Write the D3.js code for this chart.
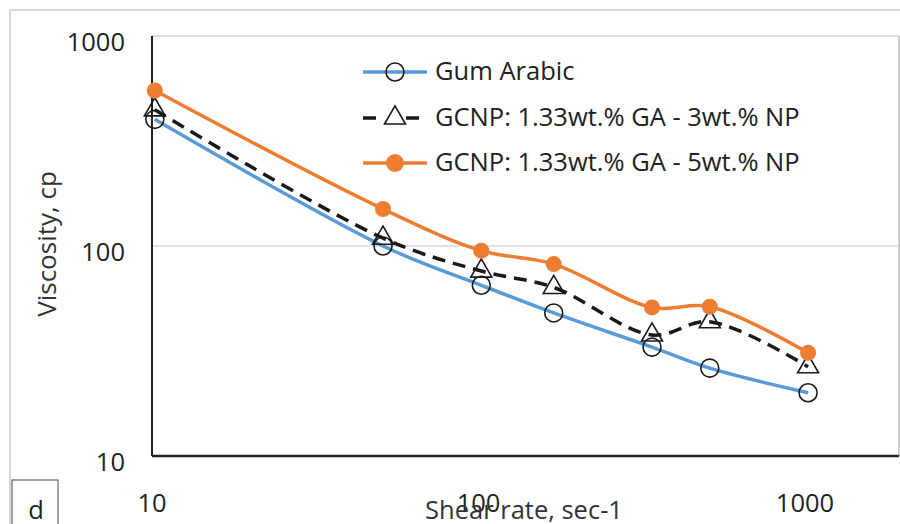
<!DOCTYPE html>
<html>
<head>
<meta charset="utf-8">
<script src="https://cdn.jsdelivr.net/npm/d3@7"></script>
<style>
  body { margin: 0; background: #fff; }
  svg { display: block; font-family: "Open Sans", sans-serif; }
</style>
</head>
<body>
<svg width="900" height="524"></svg>
<script>
var shearRates = [10.2, 51, 102, 170, 340, 511, 1022];
var gumArabic = [401, 100, 65, 48, 33, 26.2, 20];
var gcnp3 = [445, 109, 76, 63.5, 37.7, 43.6, 26.6];
var gcnp5 = [550, 150, 95, 82, 51, 51.4, 31];
var xTicks = [10, 100, 1000];
var yTicks = [10, 100, 1000];
var seriesNames = ['Gum Arabic', 'GCNP: 1.33wt.% GA - 3wt.% NP', 'GCNP: 1.33wt.% GA - 5wt.% NP'];

var svg = d3.select('svg');

var plotLeft = 152, plotRight = 899, plotTop = 36, plotBottom = 456;

var xScale = d3.scaleLog()
    .domain([10, 1000])
    .range([152, 805]);

var yScale = d3.scaleLog()
    .domain([10, 1000])
    .range([plotBottom, plotTop]);

// outer chart frame (cropped)
svg.append('line')
    .attr('x1', 10).attr('x2', 900).attr('y1', 10).attr('y2', 10)
    .style('stroke', '#d9d9d9').style('stroke-width', 2);
svg.append('line')
    .attr('x1', 10).attr('x2', 10).attr('y1', 10).attr('y2', 524)
    .style('stroke', '#d9d9d9').style('stroke-width', 2);

// gridlines
svg.selectAll('line.grid')
    .data(yTicks.slice(1))
    .enter()
    .append('line')
    .attr('class', 'grid')
    .attr('x1', plotLeft).attr('x2', plotRight)
    .attr('y1', function(d){ return yScale(d); })
    .attr('y2', function(d){ return yScale(d); })
    .style('stroke', '#d9d9d9').style('stroke-width', 1.5);

svg.append('line')
    .attr('x1', plotRight).attr('x2', plotRight).attr('y1', plotTop).attr('y2', plotBottom)
    .style('stroke', '#bfbfbf').style('stroke-width', 1.5);

// axes
svg.append('line')
    .attr('x1', plotLeft).attr('x2', plotLeft).attr('y1', plotTop).attr('y2', plotBottom)
    .style('stroke', '#222').style('stroke-width', 2);
svg.append('line')
    .attr('x1', plotLeft).attr('x2', plotRight).attr('y1', plotBottom).attr('y2', plotBottom)
    .style('stroke', '#222').style('stroke-width', 2.5);

svg.selectAll('text.ytick')
    .data(yTicks)
    .enter()
    .append('text')
    .attr('class', 'ytick')
    .attr('x', 125)
    .attr('y', function(d){ return yScale(d) + 15; })
    .attr('text-anchor', 'end')
    .style('font-size', '25.5px')
    .style('fill', '#222')
    .text(function(d){ return d; });

svg.selectAll('text.xtick')
    .data(xTicks)
    .enter()
    .append('text')
    .attr('class', 'xtick')
    .attr('x', function(d){ return xScale(d); })
    .attr('y', 512)
    .attr('text-anchor', 'middle')
    .style('font-size', '25.5px')
    .style('fill', '#222')
    .text(function(d){ return d; });

svg.append('text')
    .attr('x', 524).attr('y', 519)
    .attr('text-anchor', 'middle')
    .style('font-size', '25.5px')
    .style('fill', '#333')
    .text('Shear rate, sec-1');

svg.append('text')
    .attr('transform', 'translate(56,244)rotate(-90)')
    .attr('text-anchor', 'middle')
    .style('font-size', '26px')
    .style('fill', '#333')
    .text('Viscosity, cp');

// panel label
svg.append('rect')
    .attr('x', 12).attr('y', 480).attr('width', 46).attr('height', 50)
    .style('fill', 'none').style('stroke', '#444').style('stroke-width', 1);
svg.append('text')
    .attr('x', 36).attr('y', 519)
    .attr('text-anchor', 'middle')
    .style('font-size', '25.5px')
    .style('fill', '#222')
    .text('d');

// series
var line = d3.line()
    .x(function(d){ return xScale(d[0]); })
    .y(function(d){ return yScale(d[1]); })
    .curve(d3.curveCatmullRom.alpha(0.5));

function pairs(vals) {
    return shearRates.map(function(x, i){ return [x, vals[i]]; });
}

var tri = d3.symbol().type(d3.symbolTriangle).size(190);

// Gum Arabic
svg.append('path')
    .datum(pairs(gumArabic))
    .attr('d', line)
    .style('fill', 'none').style('stroke', '#5b9bd5').style('stroke-width', 3.5);
svg.selectAll('circle.ga')
    .data(pairs(gumArabic))
    .enter()
    .append('circle')
    .attr('class', 'ga')
    .attr('cx', function(d){ return xScale(d[0]); })
    .attr('cy', function(d){ return yScale(d[1]); })
    .attr('r', 9)
    .style('fill', 'none').style('stroke', '#1a1a1a').style('stroke-width', 1.6);

// 3 wt%
svg.append('path')
    .datum(pairs(gcnp3))
    .attr('d', line)
    .style('fill', 'none').style('stroke', '#1a1a1a').style('stroke-width', 3.5)
    .style('stroke-dasharray', '13,8');
svg.selectAll('path.tri')
    .data(pairs(gcnp3))
    .enter()
    .append('path')
    .attr('class', 'tri')
    .attr('transform', function(d){ return 'translate(' + xScale(d[0]) + ',' + yScale(d[1]) + ')'; })
    .attr('d', tri)
    .style('fill', 'none').style('stroke', '#1a1a1a').style('stroke-width', 1.6);

// 5 wt%
svg.append('path')
    .datum(pairs(gcnp5))
    .attr('d', line)
    .style('fill', 'none').style('stroke', '#ed7d31').style('stroke-width', 3.5);
svg.selectAll('circle.g5')
    .data(pairs(gcnp5))
    .enter()
    .append('circle')
    .attr('class', 'g5')
    .attr('cx', function(d){ return xScale(d[0]); })
    .attr('cy', function(d){ return yScale(d[1]); })
    .attr('r', 8)
    .style('fill', '#ed7d31');

// legend
var legendY = [72, 118, 163];
var lg = svg.append('g');

lg.append('line')
    .attr('x1', 363).attr('x2', 427).attr('y1', legendY[0]).attr('y2', legendY[0])
    .style('stroke', '#5b9bd5').style('stroke-width', 3.5);
lg.append('circle')
    .attr('cx', 395).attr('cy', legendY[0]).attr('r', 9)
    .style('fill', 'none').style('stroke', '#1a1a1a').style('stroke-width', 1.6);

lg.append('line')
    .attr('x1', 363).attr('x2', 427).attr('y1', legendY[1]).attr('y2', legendY[1])
    .style('stroke', '#1a1a1a').style('stroke-width', 3.5)
    .style('stroke-dasharray', '13,8,0,22,13');
lg.append('path')
    .attr('transform', 'translate(395,' + legendY[1] + ')')
    .attr('d', tri)
    .style('fill', 'none').style('stroke', '#1a1a1a').style('stroke-width', 1.6);

lg.append('line')
    .attr('x1', 363).attr('x2', 427).attr('y1', legendY[2]).attr('y2', legendY[2])
    .style('stroke', '#ed7d31').style('stroke-width', 3.5);
lg.append('circle')
    .attr('cx', 395).attr('cy', legendY[2]).attr('r', 9)
    .style('fill', '#ed7d31');

lg.selectAll('text')
    .data(seriesNames)
    .enter()
    .append('text')
    .attr('x', 435)
    .attr('y', function(d, i){ return legendY[i] + 8; })
    .style('font-size', '25.5px')
    .style('fill', '#222')
    .text(function(d){ return d; });
</script>
</body>
</html>
